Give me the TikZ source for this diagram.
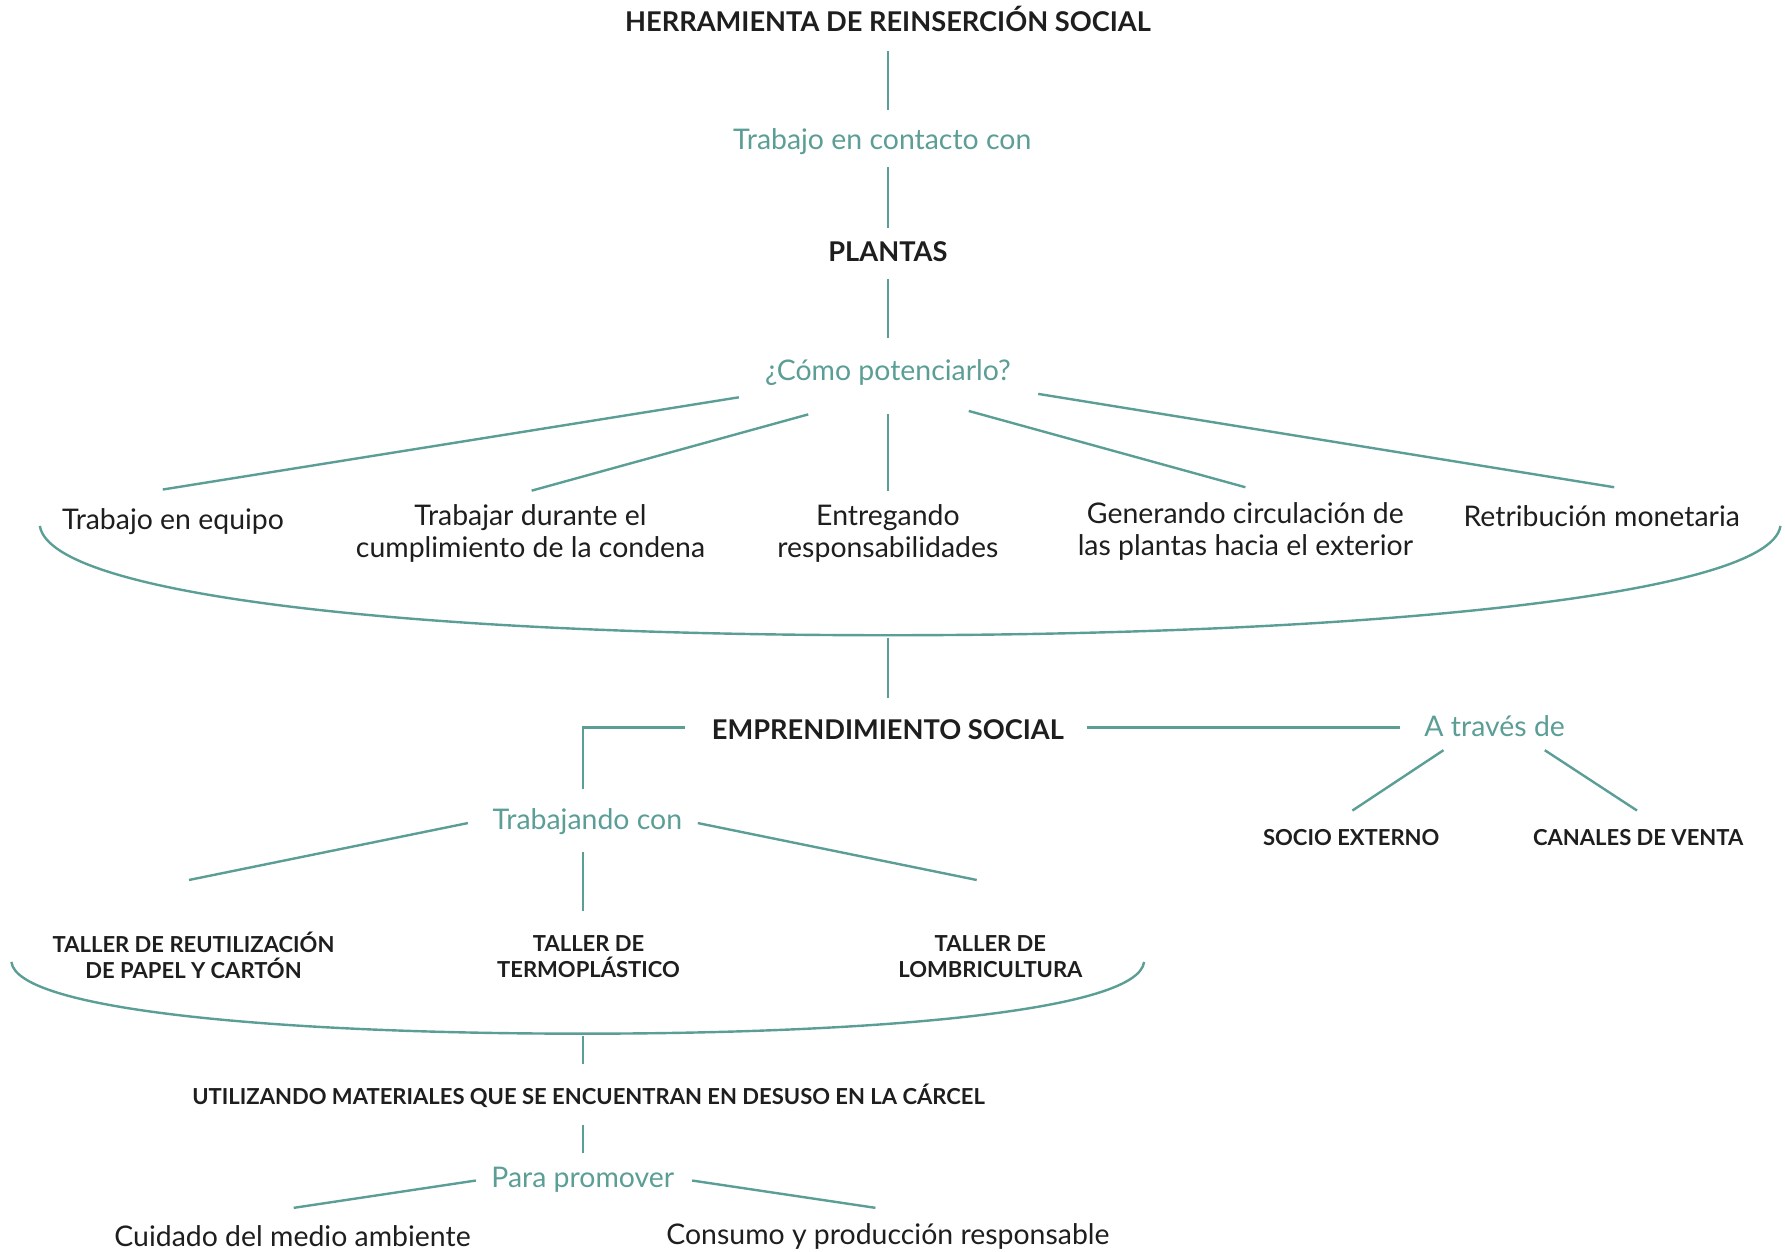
\documentclass[tikz,border=0pt]{standalone}
\usepackage{fontspec}
\setmainfont{Lato}
\usetikzlibrary{positioning, calc}
\definecolor{teal}{HTML}{5B9E96}
\definecolor{ink}{HTML}{1E1E1E}

\begin{document}
\begin{tikzpicture}[x=0.01cm, y=-0.01cm,
    txt/.style={font=\fontsize{7.1}{8}\selectfont, text=ink, align=center, inner sep=0pt},
    conn/.style={txt, text=teal},
    head/.style={txt, font=\fontsize{6.8}{8}\selectfont\bfseries},
    tag/.style={txt, font=\fontsize{5.5}{6.5}\selectfont\bfseries},
    link/.style={draw=teal, line width=0.6pt}]

  \useasboundingbox (0,0) rectangle (1568,1099);

  % upper part
  \node[head] (title) at (780,17) {HERRAMIENTA DE REINSERCIÓN SOCIAL};
  \node[conn] (contacto) at (775,124) {Trabajo en contacto con};
  \node[head] (plantas) at (780,221) {PLANTAS};
  \node[conn] (como) at (780,327) {¿Cómo potenciarlo?};

  \node[txt] (equipo) at (152,458) {Trabajo en equipo};
  \node[txt] (condena) at (466,469) {Trabajar durante el\\cumplimiento de la condena};
  \node[txt] (respons) at (780,469) {Entregando\\responsabilidades};
  \node[txt] (circulacion) at (1094,467) {Generando circulación de\\las plantas hacia el exterior};
  \node[txt] (retribucion) at (1407,453) {Retribución monetaria};

  \draw[link] ([shift={(0,28)}]title.center) -- ([shift={(5,-27)}]contacto.center);
  \draw[link] ([shift={(5,23)}]contacto.center) -- ([shift={(0,-21)}]plantas.center);
  \draw[link] ([shift={(0,24)}]plantas.center) -- ([shift={(0,-30)}]como.center);

  \draw[link] ([shift={(-131,22)}]como.center) -- ([shift={(-9,-28)}]equipo.center);
  \draw[link] ([shift={(-70,37)}]como.center) -- ([shift={(1,-38)}]condena.center);
  \draw[link] ([shift={(0,37)}]como.center) -- ([shift={(0,-38)}]respons.center);
  \draw[link] ([shift={(71,34)}]como.center) -- ([shift={(0,-39)}]circulacion.center);
  \draw[link] ([shift={(132,19)}]como.center) -- ([shift={(11,-25)}]retribucion.center);

  % first brace
  \coordinate (b1) at (780,558);
  \draw[link] (35,462) .. controls (45,525) and (380,558) .. (b1)
    .. controls (1180,558) and (1555,525) .. (1564,462);

  % middle part
  \node[head] (emprend) at (780,641) {EMPRENDIMIENTO SOCIAL};
  \node[conn] (traves) at (1313,638) {A través de};
  \node[tag] (socio) at (1187,736) {SOCIO EXTERNO};
  \node[tag] (canales) at (1439,736) {CANALES DE VENTA};
  \node[conn] (trabajando) at (516,722) {Trabajando con};
  \node[tag] (papel) at (170,839) {TALLER DE REUTILIZACIÓN\\DE PAPEL Y CARTÓN};
  \node[tag] (termo) at (517,840) {TALLER DE\\TERMOPLÁSTICO};
  \node[tag] (lombri) at (870,840) {TALLER DE\\LOMBRICULTURA};

  \draw[link] ([shift={(0,2)}]b1) -- ([shift={(0,-28)}]emprend.center);
  \draw[link] ([shift={(-178,-2)}]emprend.center) -| ([shift={(-4,-29)}]trabajando.center);
  \draw[link] ([shift={(175,-2)}]emprend.center) -- ([shift={(-83,1)}]traves.center);
  \draw[link] ([shift={(-45,21)}]traves.center) -- ([shift={(1,-24)}]socio.center);
  \draw[link] ([shift={(44,21)}]traves.center) -- ([shift={(-1,-24)}]canales.center);

  \draw[link] ([shift={(-105,1)}]trabajando.center) -- ([shift={(-4,-66)}]papel.center);
  \draw[link] ([shift={(-4,26)}]trabajando.center) -- ([shift={(-5,-40)}]termo.center);
  \draw[link] ([shift={(97,1)}]trabajando.center) -- ([shift={(-12,-67)}]lombri.center);

  % second brace
  \coordinate (b2) at (512,908);
  \draw[link] (10,845) .. controls (15,888) and (250,908) .. (b2)
    .. controls (770,908) and (1000,888) .. (1005,845);

  % lower part
  \node[tag] (utilizando) at (517,963) {UTILIZANDO MATERIALES QUE SE ENCUENTRAN EN DESUSO EN LA CÁRCEL};
  \node[conn] (promover) at (512,1036) {Para promover};
  \node[txt] (cuidado) at (257,1086) {Cuidado del medio ambiente};
  \node[txt] (consumo) at (780,1086) {Consumo y producción responsable};

  \draw[link] ([shift={(0,2)}]b2) -- ([shift={(-5,-28)}]utilizando.center);
  \draw[link] ([shift={(-5,25)}]utilizando.center) -- ([shift={(0,-23)}]promover.center);
  \draw[link] ([shift={(-94,1)}]promover.center) -- ([shift={(1,-25)}]cuidado.center);
  \draw[link] ([shift={(96,1)}]promover.center) -- ([shift={(-11,-25)}]consumo.center);
\end{tikzpicture}
\end{document}
